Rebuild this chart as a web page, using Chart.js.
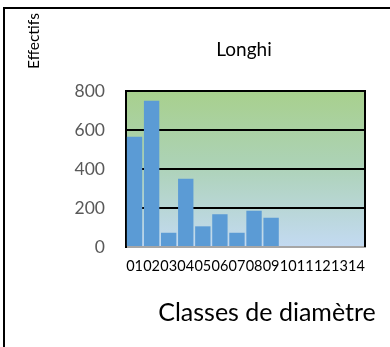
<!DOCTYPE html>
<html>
<head>
<meta charset="utf-8">
<script src="https://cdn.jsdelivr.net/npm/chart.js@4/dist/chart.umd.min.js"></script>
<style>
  html, body { margin: 0; padding: 0; background: #fff; }
  #wrap { width: 390px; height: 347px; position: relative; }
</style>
</head>
<body>
<div id="wrap"><canvas id="c" width="390" height="347"></canvas></div>
<script>
// Diameter classes and tree counts
const classes = ['01','02','03','04','05','06','07','08','09','10','11','12','13','14'];
const effectifs = [565, 750, 73, 350, 106, 168, 73, 186, 150, 0, 0, 0, 0, 0];
const yTicks = [0, 200, 400, 600, 800];

const chartTitle = 'Longhi';
const yTitle = 'Effectifs';
const xTitle = 'Classes de diamètre';
const FONT = 'Lato, "Open Sans", sans-serif';

// Gradient plot background, frame and free-standing titles
const decor = {
  id: 'decor',
  beforeDraw(chart) {
    const { ctx, chartArea: a } = chart;
    ctx.save();
    const g = ctx.createLinearGradient(0, a.top, 0, a.bottom);
    g.addColorStop(0, '#a8d08d');
    g.addColorStop(0.45, '#acd2b4');
    g.addColorStop(1, '#c3daf2');
    ctx.fillStyle = g;
    ctx.fillRect(a.left, a.top, a.right - a.left, a.bottom - a.top);
    ctx.restore();
  },
  afterDraw(chart) {
    const { ctx, chartArea: a } = chart;
    ctx.save();
    // outer frame (top and left edges)
    ctx.strokeStyle = '#000';
    ctx.lineWidth = 2;
    ctx.beginPath();
    ctx.moveTo(4, 347);
    ctx.lineTo(4, 8);
    ctx.lineTo(390, 8);
    ctx.stroke();
    // plot area top/right border
    ctx.beginPath();
    ctx.moveTo(a.left, a.top);
    ctx.lineTo(a.right, a.top);
    ctx.lineTo(a.right, a.bottom);
    ctx.stroke();
    // titles
    ctx.fillStyle = '#000';
    ctx.textAlign = 'center';
    ctx.textBaseline = 'middle';
    ctx.font = '19px ' + FONT;
    ctx.fillText(chartTitle, 244, 50);
    ctx.font = '25px ' + FONT;
    ctx.fillText(xTitle, 267, 313);
    ctx.translate(34, 41);
    ctx.rotate(-Math.PI / 2);
    ctx.font = '15.5px ' + FONT;
    ctx.fillText(yTitle, 0, 0);
    ctx.restore();
  }
};

new Chart(document.getElementById('c'), {
  type: 'bar',
  data: {
    labels: classes,
    datasets: [{
      data: effectifs,
      backgroundColor: '#5b9bd5',
      borderWidth: 0,
      barPercentage: 0.9,
      categoryPercentage: 1.0
    }]
  },
  options: {
    responsive: false,
    animation: false,
    layout: { padding: { top: 91, right: 25, left: 0, bottom: 0 } },
    plugins: { legend: { display: false }, tooltip: { enabled: false }, title: { display: false } },
    scales: {
      x: {
        grid: { display: false, drawTicks: false },
        border: { color: '#a6a6a6', width: 2 },
        ticks: {
          autoSkip: false, maxRotation: 0, minRotation: 0,
          color: '#000', padding: 11,
          font: { family: FONT, size: 14.5 }
        },
        afterFit(s) { s.height = 100; }
      },
      y: {
        min: 0, max: 800,
        afterBuildTicks(s) { s.ticks = yTicks.map(v => ({ value: v })); },
        grid: {
          drawTicks: false,
          color: ctx => ctx.tick && ctx.tick.value === 0 ? '#a6a6a6' : '#000',
          lineWidth: 2
        },
        border: { color: '#000', width: 2 },
        ticks: {
          color: '#595959', padding: 21,
          font: { family: FONT, size: 17.5 }
        },
        afterFit(s) { s.width = 126; }
      }
    }
  },
  plugins: [decor]
});
</script>
</body>
</html>
